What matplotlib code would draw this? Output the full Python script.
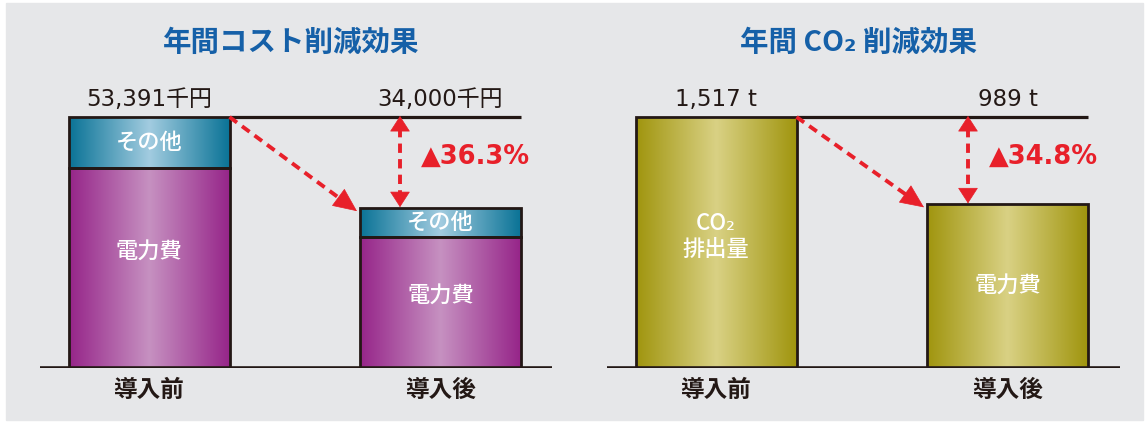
import numpy as np
import matplotlib.pyplot as plt
from matplotlib.colors import LinearSegmentedColormap
from matplotlib.patches import Rectangle

plt.rcParams['font.family'] = ['Noto Sans CJK JP', 'DejaVu Sans']
NUMFONT = ['DejaVu Sans', 'Noto Sans CJK JP']

stages = ['導入前', '導入後']

# annual cost (千円), split estimated from the bar picture
cost_total = [53391, 34000]
cost_other = [10891, 6100]
cost_power = [42500, 27900]
cost_labels = ['53,391千円', '34,000千円']
cost_cut = '▲36.3%'

# annual CO2 (t)
co2_total = [1517, 989]
co2_labels = ['1,517 t', '989 t']
co2_cut = '▲34.8%'

W, H = 1147, 423
DARK = '#231815'
RED = '#e8202a'
BLUE = '#1560a8'

purple = LinearSegmentedColormap.from_list('p', ['#962589', '#c691c1', '#962589'])
teal = LinearSegmentedColormap.from_list('t', ['#0a7396', '#a2cce0', '#0a7396'])
olive = LinearSegmentedColormap.from_list('o', ['#a0950e', '#d9d184', '#a0950e'])

fig = plt.figure(figsize=(W / 100, H / 100), dpi=100, facecolor='white')
fig.patches.append(Rectangle((6 / W, 3 / H), 1137 / W, 417 / H, transform=fig.transFigure,
                             color='#e6e7e9', zorder=-5))


def shade(ax, bars, cmap):
    grad = np.linspace(0, 1, 256).reshape(1, -1)
    for b in bars:
        x0, y0 = b.get_x(), b.get_y()
        im = ax.imshow(grad, cmap=cmap, extent=(x0, x0 + b.get_width(), y0, y0 + b.get_height()),
                       aspect='auto', zorder=1)
        im.set_clip_path(b)


def panel(left_px, right_px, arrow_px, title, totals, labels, cut, layers):
    base_px, top_px = 368, 60
    c0 = left_px + 109          # centre of first bar in pixels
    s = 291.5                   # pixels per category step
    w = 161 / s
    ax = fig.add_axes([left_px / W, (H - base_px) / H, (right_px - left_px) / W, (base_px - top_px) / H])
    ax.set_facecolor('none')
    ytop = totals[0] * (base_px - top_px) / 251
    py = totals[0] / 251        # data units per pixel (vertical)
    px = 1 / s

    x = np.arange(len(stages))
    bottom = np.zeros(len(stages))
    for vals, cmap, names, yoff in layers:
        bars = ax.bar(x, vals, w, bottom=bottom, color='none', edgecolor=DARK, linewidth=2.0, zorder=3)
        shade(ax, bars, cmap)
        for i, b in enumerate(bars):
            ax.text(x[i], bottom[i] + vals[i] / 2 + yoff[i] * py, names[i], ha='center', va='center',
                    color='white', fontsize=16, fontweight='medium', linespacing=1.15, zorder=4)
        bottom = bottom + np.array(vals)

    # value labels sit above the top reference line
    for i in x:
        ax.text(i, totals[0] + 6 * py, labels[i], ha='center', va='bottom', fontsize=16.5,
                color=DARK, family=NUMFONT)

    ax.plot([w / 2, 1 + w / 2], [totals[0], totals[0]], color=DARK, lw=2.3, zorder=2,
            solid_capstyle='butt')
    ax.axhline(0, color=DARK, lw=2.6, zorder=5)

    # diagonal dashed arrow
    tip = (1 - w / 2 - 3 * px, totals[1] - 3 * py)
    start = (w / 2, totals[0])
    d = np.array([tip[0] - start[0], tip[1] - start[1]])
    pre = (tip[0] - d[0] * 0.13, tip[1] - d[1] * 0.13)
    ax.plot([start[0], pre[0]], [start[1], pre[1]], color=RED, lw=2.8, ls=(0, (2.4, 1.6)), zorder=6)
    ax.annotate('', xy=tip, xytext=pre,
                arrowprops=dict(arrowstyle='-|>,head_length=1.0,head_width=0.45', color=RED, lw=0.5,
                                mutation_scale=16, shrinkA=0, shrinkB=0), zorder=6)

    # vertical double arrow
    vx = (arrow_px - c0) / s
    ya, yb = totals[0] + 1 * py, totals[1] + 1 * py
    ax.plot([vx, vx], [ya - 12 * py, yb + 12 * py], color=RED, lw=2.8, ls=(0, (2.4, 1.6)), zorder=6)
    for a, b in [(ya - 13 * py, ya), (yb + 13 * py, yb)]:
        ax.annotate('', xy=(vx, b), xytext=(vx, a),
                    arrowprops=dict(arrowstyle='-|>,head_length=0.65,head_width=0.42', color=RED, lw=0.5,
                                    mutation_scale=16, shrinkA=0, shrinkB=0), zorder=6)
    ax.text(vx + 21 * px, totals[0] - 40 * py, cut, ha='left', va='center', color=RED,
            fontsize=18.5, fontweight='bold', family=NUMFONT)

    ax.set_xlim((left_px - c0) / s, (right_px - c0) / s)
    ax.set_ylim(0, ytop)
    ax.set_xticks(x, stages, fontsize=17, color=DARK, fontweight='bold')
    ax.tick_params(axis='x', length=0, pad=7)
    ax.set_yticks([])
    for sp in ax.spines.values():
        sp.set_visible(False)

    fig.text((left_px + right_px) / 2 / W - 0.004, (H - 43) / H, title, ha='center', va='center',
             fontsize=20.5, fontweight='bold', color=BLUE)


panel(40, 552, 400, '年間コスト削減効果', cost_total, cost_labels, cost_cut,
      [(cost_power, purple, ['電力費', '電力費'], [16, 6]),
       (cost_other, teal, ['その他', 'その他'], [0, 0])])
panel(607, 1120, 968, '年間 CO₂ 削減効果', co2_total, co2_labels, co2_cut,
      [(co2_total, olive, ['CO₂\n排出量', '電力費'], [6, 0])])

fig.savefig('out.png', dpi=100, facecolor='white')
